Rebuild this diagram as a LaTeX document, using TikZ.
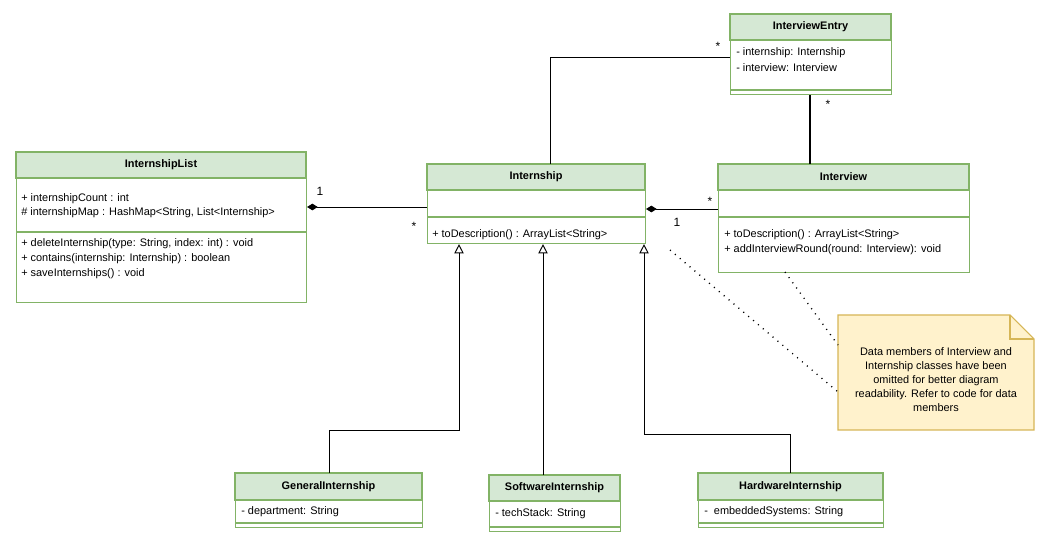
\documentclass[tikz,border=0pt]{standalone}
\usepackage{fontspec}
\setmainfont{Liberation Sans}
\usetikzlibrary{arrows.meta,calc}
\definecolor{hdrfill}{HTML}{D5E8D4}
\definecolor{hdrline}{HTML}{82B366}
\definecolor{notefill}{HTML}{FFF2CC}
\definecolor{noteline}{HTML}{D6B656}
\tikzset{
  cls/.style={draw=hdrline, fill=white, inner sep=0pt, line width=0.8pt},
  txt/.style={anchor=west, inner sep=0pt, font=\fontsize{8.2}{10}\selectfont},
  ttl/.style={inner sep=0pt, font=\fontsize{8.2}{10}\selectfont\bfseries},
  mult/.style={inner sep=0pt, font=\fontsize{9}{10}\selectfont},
  conn/.style={draw=black, line width=0.7pt},
  inh/.style={conn, -{Triangle[open, length=7pt, width=7pt]}},
  comp/.style={conn, {Diamond[length=8pt, width=5pt]}-},
  dots/.style={draw=black, line width=1pt, dash pattern=on 0.8pt off 4pt}
}
\newcommand\umlclass[8]{%
  \node[cls, minimum width={(#4-#2)*0.75pt}, minimum height={(#5-#3)*0.75pt}, anchor=north west] (#1) at (#2,#3) {};
  \filldraw[fill=hdrfill, draw=hdrline, line width=0.8pt] (#2,#3) rectangle (#4,#6);
  \draw[hdrline, line width=0.8pt] (#2,#7) -- (#4,#7);
  \node[ttl] at ({(#2+#4)/2},{(#3+#6)/2}) {#8};}
\begin{document}
\begin{tikzpicture}[x=0.75pt,y=-0.75pt]
\useasboundingbox (0,0) rectangle (1046,559);
% classes
\umlclass{IL}{16}{152}{306}{302}{178}{232}{InternshipList}
\node[txt] at (21,199) {+ internshipCount : int};
\node[txt] at (21,213) {\# internshipMap : HashMap<String, List<Internship>};
\node[txt] at (21,244) {+ deleteInternship(type: String, index: int) : void};
\node[txt] at (21,259) {+ contains(internship: Internship) : boolean};
\node[txt] at (21,274) {+ saveInternships() : void};

\umlclass{IS}{427}{164}{645}{243}{190}{217}{Internship}
\node[txt] at (432,235) {+ toDescription() : ArrayList<String>};

\umlclass{IV}{718}{164}{969}{272}{190}{217}{Interview}
\node[txt] at (724,235) {+ toDescription() : ArrayList<String>};
\node[txt] at (724,250) {+ addInterviewRound(round: Interview): void};

\umlclass{IE}{730}{14}{891}{94}{40}{90}{InterviewEntry}
\node[txt] at (736,53) {- internship: Internship};
\node[txt] at (736,68) {- interview: Interview};

\umlclass{GI}{235}{473}{422}{527}{500}{523}{GeneralInternship}
\node[txt] at (241,512) {- department: String};

\umlclass{SI}{489}{475}{620}{531}{501}{527}{SoftwareInternship}
\node[txt] at (495,514) {- techStack: String};

\umlclass{HI}{698}{473}{883}{527}{500}{523}{HardwareInternship}
\node[txt] at (704,512) {-\ \ embeddedSystems: String};

% note
\coordinate (N) at (838,315);
\filldraw[fill=notefill, draw=noteline, line width=0.8pt]
  (838,315) -- (1010,315) -- (1034,339) -- (1034,430) -- (838,430) -- cycle;
\draw[noteline, line width=0.8pt] (1010,315) -- (1010,339) -- (1034,339);
\node[inner sep=0pt, align=center, font=\fontsize{8.2}{10.5}\selectfont] (note) at (936,380)
  {Data members of Interview and\\Internship classes have been\\omitted for better diagram\\readability. Refer to code for data\\members};
\coordinate (n1) at (838,345);
\coordinate (n2) at (838,392);

% connectors
\draw[comp] (IL.east |- 0,207) -- (IS.west |- 0,207);
\node[mult] at (320,191) {1};
\node[mult] at (414,226) {*};

\draw[comp] (IS.east |- 0,209) -- (IV.west |- 0,209);
\node[mult] at (710,201) {*};
\node[mult] at (677,222) {1};

\draw[conn] (IS.north -| 550,0) |- (IE.west |- 0,57);
\node[mult] at (718,46) {*};

\draw[conn, line width=2pt] (IE.south -| 810,0) -- (IV.north -| 810,0);
\node[mult] at (828,104) {*};

\draw[inh] (GI.north -| 329,0) |- (459,430) -- (IS.south -| 459,0);
\draw[inh] (SI.north -| 543,0) -- (IS.south -| 543,0);
\draw[inh] (HI.north -| 790,0) |- (644,434) -- (IS.south -| 644,0);

\draw[dots] (670,250) -- (n2);
\draw[dots] (785,272) -- (n1);
\end{tikzpicture}
\end{document}
